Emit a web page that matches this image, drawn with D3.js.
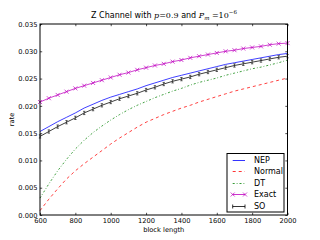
<!DOCTYPE html>
<html>
<head>
<meta charset="utf-8">
<script src="https://cdn.jsdelivr.net/npm/d3@7"></script>
<style>
body { margin: 0; background: #fff; }
svg { display: block; }
text { font-family: "DejaVu Sans", sans-serif; fill: #000; }
</style>
</head>
<body>
<script>
// block lengths (x axis)
var blockLength = [600, 650, 700, 750, 800, 850, 900, 950, 1000, 1050, 1100, 1150, 1200, 1250, 1300,
    1350, 1400, 1450, 1500, 1550, 1600, 1650, 1700, 1750, 1800, 1850, 1900, 1950, 2000];

var nep = [0.0153, 0.0162, 0.0171, 0.0179, 0.0187, 0.0196, 0.0203, 0.0210, 0.0216, 0.0221, 0.0226, 0.0231,
    0.0237, 0.0242, 0.0247, 0.0252, 0.0256, 0.0260, 0.0264, 0.0268, 0.0272, 0.0276, 0.0279, 0.0282,
    0.0285, 0.0288, 0.0291, 0.0294, 0.0296];

var normal = [0.0008, 0.0029, 0.0048, 0.0066, 0.0081, 0.0094, 0.0106, 0.0118, 0.0130, 0.0141, 0.0151, 0.0161,
    0.0170, 0.0177, 0.0184, 0.0190, 0.0196, 0.0201, 0.0207, 0.0212, 0.0217, 0.0222, 0.0227, 0.0231,
    0.0235, 0.0239, 0.0243, 0.0247, 0.0251];

var dt = [0.0031, 0.0057, 0.0081, 0.0102, 0.0121, 0.0137, 0.0151, 0.0163, 0.0174, 0.0184, 0.0193, 0.0201,
    0.0208, 0.0215, 0.0221, 0.0227, 0.0232, 0.0238, 0.0243, 0.0247, 0.0251, 0.0256, 0.0260, 0.0264,
    0.0268, 0.0271, 0.0275, 0.0279, 0.0284];

var exact = [0.0207, 0.0214, 0.0220, 0.0226, 0.0232, 0.0237, 0.0242, 0.0247, 0.0252, 0.0257, 0.0261, 0.0266,
    0.0270, 0.0274, 0.0277, 0.0281, 0.0284, 0.0288, 0.0291, 0.0294, 0.0297, 0.0300, 0.0302, 0.0305,
    0.0307, 0.0309, 0.0312, 0.0314, 0.0315];

var so = [0.0144, 0.0153, 0.0162, 0.0170, 0.0178, 0.0187, 0.0194, 0.0201, 0.0207, 0.0213, 0.0218, 0.0223,
    0.0229, 0.0234, 0.0240, 0.0245, 0.0249, 0.0253, 0.0258, 0.0262, 0.0266, 0.0270, 0.0274, 0.0277,
    0.0280, 0.0283, 0.0286, 0.0289, 0.0291];
var soErr = 0.0003;

var xTicks = [600, 800, 1000, 1200, 1400, 1600, 1800, 2000];
var yTicks = [0, 0.005, 0.010, 0.015, 0.020, 0.025, 0.030, 0.035];

var legendLabels = ["NEP", "Normal", "DT", "Exact", "SO"];

//размеры области графика
var width = 320, height = 240;
var xLeft = 40, xRight = 287.5, yTop = 24, yBottom = 215;
var tickLen = 2.2;
var lw = 0.75;

var svg = d3.select("body").append("svg")
    .attr("width", width)
    .attr("height", height);

var x = d3.scaleLinear().domain([600, 2000]).range([xLeft, xRight]);
var y = d3.scaleLinear().domain([0, 0.035]).range([yBottom, yTop]);

//оси, засечки внутрь
var gx = svg.append("g")
    .attr("transform", "translate(0," + yBottom + ")")
    .call(d3.axisBottom(x).tickValues(xTicks).tickFormat(d3.format("d"))
        .tickSizeInner(-tickLen).tickSizeOuter(0).tickPadding(2.8));
var gy = svg.append("g")
    .attr("transform", "translate(" + xLeft + ",0)")
    .call(d3.axisLeft(y).tickValues(yTicks).tickFormat(d3.format(".3f"))
        .tickSizeInner(-tickLen).tickSizeOuter(0).tickPadding(2.5));
var gt = svg.append("g")
    .attr("transform", "translate(0," + yTop + ")")
    .call(d3.axisTop(x).tickValues(xTicks).tickFormat("").tickSizeInner(-tickLen).tickSizeOuter(0));
var gr = svg.append("g")
    .attr("transform", "translate(" + xRight + ",0)")
    .call(d3.axisRight(y).tickValues(yTicks).tickFormat("").tickSizeInner(-tickLen).tickSizeOuter(0));

[gx, gy, gt, gr].forEach(function(g) {
    g.select(".domain").remove();
    g.selectAll("text").style("font-size", "6.7px").style("font-family", "DejaVu Sans");
    g.selectAll("line").attr("stroke", "#000").attr("stroke-width", 0.7);
});

function line(values) {
    return d3.line()
        .x(function(d, i) { return x(blockLength[i]); })
        .y(function(d) { return y(d); })(values);
}

var plot = svg.append("g");

plot.append("path").attr("d", line(normal))
    .attr("fill", "none").attr("stroke", "#ff0000").attr("stroke-width", lw)
    .attr("stroke-dasharray", "3,3");

plot.append("path").attr("d", line(dt))
    .attr("fill", "none").attr("stroke", "#008000").attr("stroke-width", lw)
    .attr("stroke-dasharray", "2,2,0.8,2");

plot.append("path").attr("d", line(nep))
    .attr("fill", "none").attr("stroke", "#0000ff").attr("stroke-width", lw);

//Exact с маркерами x
plot.append("path").attr("d", line(exact))
    .attr("fill", "none").attr("stroke", "#bf00bf").attr("stroke-width", lw);
var m = 2;
plot.selectAll(".xmark").data(exact).enter().append("path")
    .attr("class", "xmark")
    .attr("d", function(d, i) {
        var cx = x(blockLength[i]), cy = y(d);
        return "M" + (cx - m) + " " + (cy - m) + "L" + (cx + m) + " " + (cy + m) +
            "M" + (cx - m) + " " + (cy + m) + "L" + (cx + m) + " " + (cy - m);
    })
    .attr("stroke", "#bf00bf").attr("stroke-width", 0.7).attr("fill", "none");

//SO с полосами ошибок
plot.append("path").attr("d", line(so))
    .attr("fill", "none").attr("stroke", "#000").attr("stroke-width", lw);
plot.selectAll(".err").data(so).enter().append("path")
    .attr("class", "err")
    .attr("d", function(d, i) {
        var cx = x(blockLength[i]), y0 = y(d - soErr), y1 = y(d + soErr);
        return "M" + cx + " " + y0 + "L" + cx + " " + y1 +
            "M" + (cx - 1.2) + " " + y0 + "L" + (cx + 1.2) + " " + y0 +
            "M" + (cx - 1.2) + " " + y1 + "L" + (cx + 1.2) + " " + y1;
    })
    .attr("stroke", "#000").attr("stroke-width", 0.6).attr("fill", "none");

//рамка
svg.append("rect")
    .attr("x", xLeft).attr("y", yTop)
    .attr("width", xRight - xLeft).attr("height", yBottom - yTop)
    .attr("fill", "none").attr("stroke", "#000").attr("stroke-width", 1);

//подписи
var title = svg.append("text")
    .attr("x", 164).attr("y", 17.5)
    .attr("text-anchor", "middle")
    .style("font-size", "8px");
title.append("tspan").text("Z Channel with ");
title.append("tspan").style("font-family", "DejaVu Serif").style("font-style", "italic").text("p");
title.append("tspan").style("font-family", "DejaVu Serif").text("=0.9");
title.append("tspan").text(" and ");
title.append("tspan").style("font-family", "DejaVu Serif").style("font-style", "italic").text("P");
title.append("tspan").style("font-family", "DejaVu Serif").style("font-style", "italic")
    .style("font-size", "5.5px").attr("dy", 2).text("m");
title.append("tspan").style("font-family", "DejaVu Serif").attr("dy", -2).text(" =10");
title.append("tspan").style("font-family", "DejaVu Serif").style("font-size", "5.5px")
    .attr("dy", -3.5).text("\u22126");

svg.append("text")
    .attr("x", (xLeft + xRight) / 2).attr("y", 231.5)
    .attr("text-anchor", "middle")
    .style("font-size", "6.7px")
    .text("block length");

svg.append("text")
    .attr("transform", "translate(14," + ((yTop + yBottom) / 2) + ") rotate(-90)")
    .attr("text-anchor", "middle")
    .style("font-size", "6.7px")
    .text("rate");

//легенда
var lg = svg.append("g");
lg.append("rect")
    .attr("x", 227).attr("y", 153.5).attr("width", 57).attr("height", 58.5)
    .attr("fill", "#fff").attr("stroke", "#000").attr("stroke-width", 1);

var lx0 = 232.7, lx1 = 245, ly0 = 159.5, ldy = 11.6;
legendLabels.forEach(function(name, i) {
    var ly = Math.round(ly0 + i * ldy) + 0.5;
    var p = lg.append("path").attr("d", "M" + lx0 + " " + ly + "L" + lx1 + " " + ly)
        .attr("fill", "none").attr("stroke-width", 0.8);
    if (name == "NEP") {
        p.attr("stroke", "#0000ff");
    } else if (name == "Normal") {
        p.attr("stroke", "#ff0000").attr("stroke-dasharray", "3,3");
    } else if (name == "DT") {
        p.attr("stroke", "#008000").attr("stroke-dasharray", "2,2,0.8,2");
    } else if (name == "Exact") {
        p.attr("stroke", "#bf00bf");
        [lx0, lx1].forEach(function(cx) {
            lg.append("path")
                .attr("d", "M" + (cx - m) + " " + (ly - m) + "L" + (cx + m) + " " + (ly + m) +
                    "M" + (cx - m) + " " + (ly + m) + "L" + (cx + m) + " " + (ly - m))
                .attr("stroke", "#bf00bf").attr("stroke-width", 0.7);
        });
    } else if (name == "SO") {
        p.attr("stroke", "#000");
        [lx0, lx1].forEach(function(cx) {
            lg.append("path")
                .attr("d", "M" + cx + " " + (ly - 2) + "L" + cx + " " + (ly + 2))
                .attr("stroke", "#000").attr("stroke-width", 0.8);
        });
    }
    lg.append("text")
        .attr("x", 254).attr("y", ly + 2.6)
        .style("font-size", "8px")
        .text(name);
});
</script>
</body>
</html>
